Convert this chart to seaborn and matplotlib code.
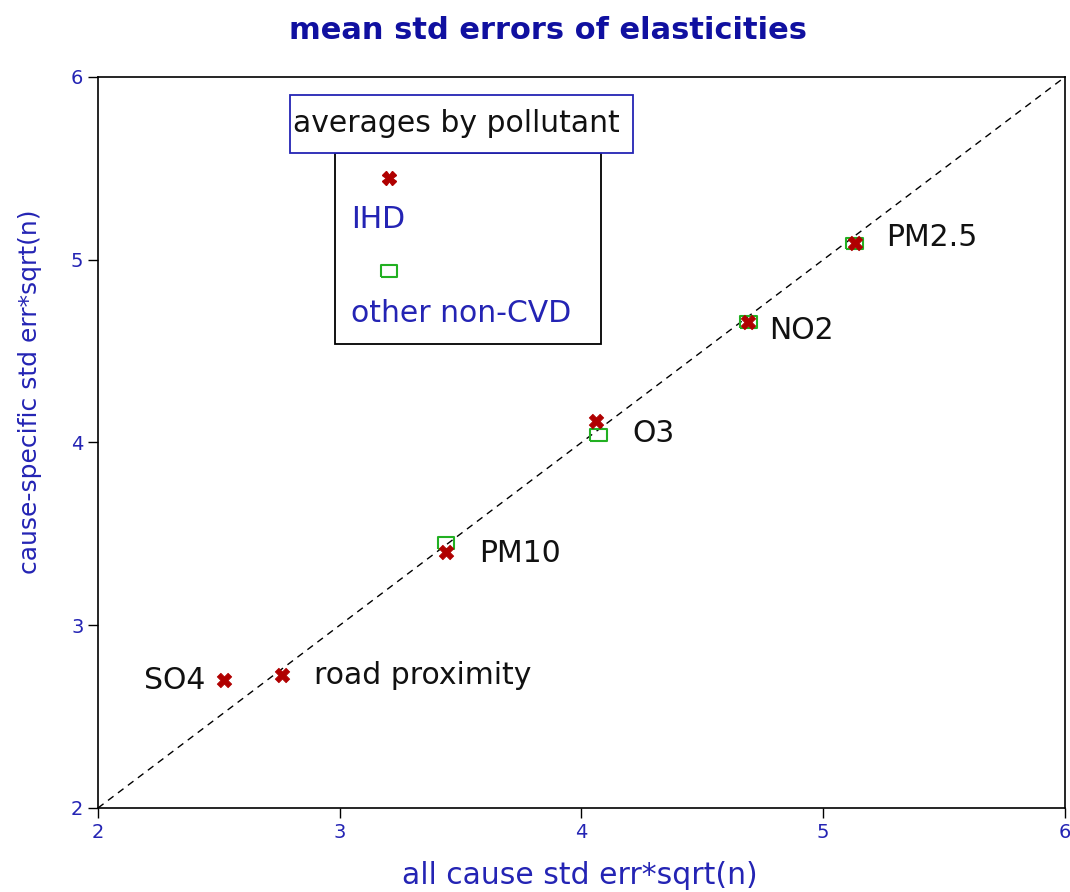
import matplotlib
matplotlib.use("Agg")
import matplotlib.pyplot as plt
from matplotlib.patches import Rectangle
import pandas as pd
import seaborn as sns

# values
pollutants = ["SO4", "road proximity", "PM10", "O3", "NO2", "PM2.5"]
all_cause = [2.52, 2.76, 3.44, 4.06, 4.69, 5.13]
ihd = [2.70, 2.73, 3.40, 4.12, 4.66, 5.09]
other_pollutants = ["PM10", "O3", "NO2", "PM2.5"]
other_all_cause = [3.44, 4.07, 4.69, 5.13]
other_non_cvd = [3.45, 4.04, 4.66, 5.09]

# where each pollutant name sits relative to its point (offset points)
label_offsets = {"SO4": (-13, 0), "road proximity": (23, -1), "PM10": (24, -1),
                 "O3": (26, -9), "NO2": (15, -6), "PM2.5": (23, 4)}

df_ihd = pd.DataFrame({"pollutant": pollutants, "x": all_cause, "y": ihd})
df_other = pd.DataFrame({"pollutant": other_pollutants, "x": other_all_cause, "y": other_non_cvd})

BLUE = "#2424b4"
TITLE_BLUE = "#1010a0"
RED = "#b00000"
GREEN = "#22b022"
rect_marker = [(-1, -0.7), (1, -0.7), (1, 0.7), (-1, 0.7), (-1, -0.7)]

sns.set_style("white")
plt.rcParams["font.family"] = ["DejaVu Sans"]

fig = plt.figure(figsize=(10.7, 8.92), dpi=100)
ax = fig.add_axes([0.0916, 0.0942, 0.9037, 0.8195])

# 45 degree reference line
ax.plot([2, 6], [2, 6], ls=(0, (5, 4)), color="black", lw=1.0, zorder=1)

sns.scatterplot(data=df_other, x="x", y="y", marker=rect_marker, s=140, facecolors="none",
                edgecolor=GREEN, linewidth=1.5, ax=ax, zorder=3)
sns.scatterplot(data=df_ihd, x="x", y="y", marker="X", s=110, color=RED,
                edgecolor=RED, linewidth=0.5, ax=ax, zorder=4)

for name, x, y in zip(pollutants, all_cause, ihd):
    dx, dy = label_offsets[name]
    ax.annotate(name, (x, y), xytext=(dx, dy), textcoords="offset points",
                ha="right" if dx < 0 else "left", va="center",
                fontsize=21.5, color="#111111")

ax.set_xlim(2, 6)
ax.set_ylim(2, 6)
ax.set_xticks([2, 3, 4, 5, 6])
ax.set_yticks([2, 3, 4, 5, 6])
ax.tick_params(axis="both", direction="out", length=7, width=1, colors="black",
               labelcolor=BLUE, labelsize=14, left=True, bottom=True)
for s in ax.spines.values():
    s.set_color("black")
    s.set_linewidth(1.2)

ax.set_xlabel("all cause std err*sqrt(n)", color=BLUE, fontsize=21.5)
ax.xaxis.set_label_coords(0.498, -0.072)
ax.set_ylabel("cause-specific std err*sqrt(n)", color=BLUE, fontsize=18)
ax.yaxis.set_label_coords(-0.058, 0.569)
fig.text(0.512, 0.966, "mean std errors of elasticities", color=TITLE_BLUE,
         fontsize=22, fontweight="bold", ha="center", va="center")

# hand-drawn legend like the original
tr = ax.transAxes
ax.add_patch(Rectangle((0.2451, 0.6348), 0.2751, 0.2612, transform=tr,
                       fill=False, ec="black", lw=1.3, zorder=5))
ax.add_patch(Rectangle((0.1986, 0.896), 0.3547, 0.0794, transform=tr,
                       fc="white", ec=BLUE, lw=1.3, zorder=6))
ax.text(0.3710, 0.9357, "averages by pollutant", transform=tr, ha="center",
        va="center", fontsize=21.5, color="#111111", zorder=7)
ax.plot([0.3009], [0.8618], marker="X", ms=10, color=RED, mec=RED, transform=tr, zorder=7)
ax.text(0.2616, 0.8044, "IHD", transform=tr, ha="left", va="center",
        fontsize=21.5, color=BLUE, zorder=7)
ax.plot([0.3009], [0.7346], marker=rect_marker, ms=12, mfc="none", mec=GREEN, mew=1.5,
        transform=tr, zorder=7)
ax.text(0.2616, 0.6758, "other non-CVD", transform=tr, ha="left", va="center",
        fontsize=21.5, color=BLUE, zorder=7)

fig.savefig("out.png", dpi=100)
